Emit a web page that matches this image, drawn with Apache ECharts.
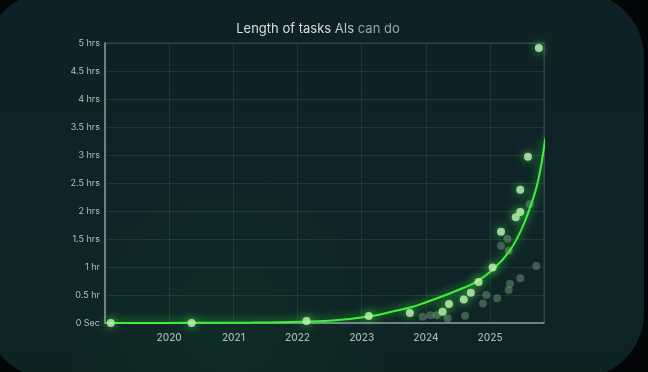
<!DOCTYPE html>
<html>
<head>
<meta charset="utf-8">
<script src="https://cdn.jsdelivr.net/npm/echarts@6/dist/echarts.min.js"></script>
<style>
html,body{margin:0;padding:0;background:#020607;}
#chart{width:648px;height:372px;}
</style>
</head>
<body>
<div id="chart"></div>
<script>
// Tick labels
const yearTicks = [2020, 2021, 2022, 2023, 2024, 2025];
const hourTickLabels = ['0 Sec','0.5 hr','1 hr','1.5 hrs','2 hrs','2.5 hrs','3 hrs','3.5 hrs','4 hrs','4.5 hrs','5 hrs'];

// Trend curve
const curveYears = [2019.08, 2020.33, 2021.3, 2021.89, 2022.5, 2023.14, 2023.53, 2023.77, 2024.0, 2024.31, 2024.57, 2024.78, 2025.04, 2025.30, 2025.48, 2025.61, 2025.75, 2025.86];
const curveHours = [0, 0.003, 0.008, 0.02, 0.04, 0.12, 0.22, 0.28, 0.37, 0.5, 0.62, 0.73, 0.95, 1.28, 1.65, 2.02, 2.55, 3.3];

// Highlighted models (bright points)
const brightYears = [2019.09, 2020.35, 2022.14, 2023.11, 2023.75, 2024.26, 2024.36, 2024.59, 2024.70, 2024.82, 2025.04, 2025.17, 2025.40, 2025.47, 2025.47, 2025.59, 2025.76];
const brightHours = [0, 0, 0.036, 0.125, 0.18, 0.2, 0.34, 0.42, 0.54, 0.73, 0.99, 1.63, 1.89, 1.98, 2.38, 2.97, 4.91];

// Other models (dim points)
const dimYears = [2023.95, 2024.07, 2024.17, 2024.34, 2024.61, 2024.89, 2024.94, 2025.11, 2025.29, 2025.31, 2025.47, 2025.72, 2025.17, 2025.27, 2025.29, 2025.62];
const dimHours = [0.11, 0.14, 0.14, 0.08, 0.13, 0.35, 0.5, 0.44, 0.59, 0.7, 0.8, 1.02, 1.38, 1.5, 1.29, 2.12];

const pair = (xs, ys) => xs.map((x, i) => [x, ys[i]]);

const chart = echarts.init(document.getElementById('chart'), null, {renderer: 'canvas'});
const FONT = 'Inter, "Noto Sans", sans-serif';

chart.setOption({
  backgroundColor: 'transparent',
  animation: false,
  graphic: [
    {
      type: 'rect', z: -100, silent: true,
      shape: {x: -15, y: -8, width: 659, height: 386, r: 65},
      style: {
        fill: new echarts.graphic.LinearGradient(0, 0, 0, 1, [
          {offset: 0, color: '#0e2126'},
          {offset: 0.6, color: '#0f2428'},
          {offset: 1, color: '#0d2423'}
        ])
      }
    },
    {
      type: 'circle', z: -99, silent: true,
      shape: {cx: 230, cy: 330, r: 160},
      style: {
        fill: new echarts.graphic.RadialGradient(0.5, 0.5, 0.5, [
          {offset: 0, color: 'rgba(40,140,60,0.08)'},
          {offset: 1, color: 'rgba(40,140,60,0)'}
        ])
      }
    }
  ],
  title: {
    text: '{a|Length of tasks }{b|AIs }{c|can do}',
    left: 313, top: 18, textAlign: 'center',
    textStyle: {
      fontWeight: 'normal',
      rich: {
        a: {color: '#d6dfdf', fontSize: 13, fontWeight: 'normal', fontFamily: FONT},
        b: {color: '#bcc7c8', fontSize: 13, fontWeight: 'normal', fontFamily: FONT},
        c: {color: '#98a6a8', fontSize: 13, fontWeight: 'normal', fontFamily: FONT}
      }
    }
  },
  grid: {
    left: 105, right: 104, top: 43, bottom: 49,
    show: true, borderColor: 'rgba(170,190,195,0.22)', borderWidth: 1,
    backgroundColor: 'transparent'
  },
  xAxis: {
    type: 'value', min: 2019, max: 2025.84, interval: 1,
    axisLine: {show: true, lineStyle: {color: '#8a999b', width: 1.5}},
    axisTick: {show: false},
    splitLine: {show: true, lineStyle: {color: 'rgba(160,190,195,0.12)', width: 1}},
    axisLabel: {
      color: '#a9b6b8', fontSize: 10, fontWeight: 500, fontFamily: FONT, margin: 10,
      formatter: v => yearTicks.includes(Math.round(v)) ? String(Math.round(v)) : ''
    }
  },
  yAxis: {
    type: 'value', min: 0, max: 5, interval: 0.5,
    axisLine: {show: true, lineStyle: {color: '#8a999b', width: 1.5}},
    axisTick: {show: false},
    splitLine: {show: true, lineStyle: {color: 'rgba(160,190,195,0.12)', width: 1}},
    axisLabel: {
      color: '#b3bfc1', fontSize: 9, fontFamily: FONT, margin: 5,
      formatter: v => hourTickLabels[Math.round(v * 2)]
    }
  },
  series: [
    {
      type: 'scatter', z: 2,
      data: pair(dimYears, dimHours),
      symbolSize: 8,
      itemStyle: {color: 'rgba(140,180,145,0.5)'}
    },
    {
      type: 'line', z: 3,
      data: pair(curveYears, curveHours),
      smooth: 0.4, showSymbol: false,
      lineStyle: {color: '#3cf03c', width: 2, shadowBlur: 10, shadowColor: 'rgba(60,255,60,0.9)'}
    },
    {
      type: 'scatter', z: 4,
      data: pair(brightYears, brightHours),
      symbolSize: 8,
      itemStyle: {color: '#c4f5b6', shadowBlur: 8, shadowColor: 'rgba(70,255,70,0.9)'}
    }
  ]
});
</script>
</body>
</html>
